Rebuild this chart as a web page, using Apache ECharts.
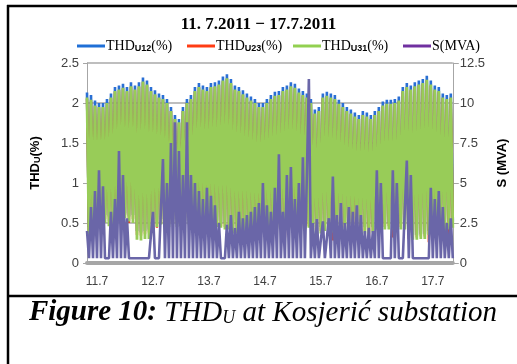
<!DOCTYPE html>
<html>
<head>
<meta charset="utf-8">
<script src="https://cdn.jsdelivr.net/npm/echarts@6/dist/echarts.min.js"></script>
<style>
  html, body { margin: 0; padding: 0; background: #fff; }
  #chart { width: 517px; height: 364px; }
</style>
</head>
<body>
<div id="chart"></div>
<script>
// x axis: sample index (about 52 min per sample), day labels placed at given indices
const dayLabels = ['11.7', '12.7', '13.7', '14.7', '15.7', '16.7', '17.7'];
const dayLabelIndex = [5, 33, 61, 89, 117, 145, 173];

// THD_U12 (%)
const thd12 = [
  2.13,0.45,2.10,0.55,2.03,0.60,2.00,0.62,
  2.00,0.60,2.05,0.58,2.12,0.55,2.20,0.60,
  2.22,0.70,2.24,0.62,2.20,0.58,2.26,0.60,
  2.22,0.40,2.26,0.38,2.32,0.40,2.28,0.42,
  2.20,0.50,2.16,0.50,2.12,0.55,2.10,0.52,
  2.05,0.55,1.95,0.60,1.85,0.55,1.80,0.60,
  1.95,0.62,2.05,0.58,2.10,0.55,2.20,0.60,
  2.25,0.60,2.22,0.60,2.20,0.58,2.25,0.56,
  2.26,0.52,2.28,0.50,2.33,0.50,2.36,0.50,
  2.30,0.45,2.22,0.45,2.20,0.48,2.16,0.50,
  2.12,0.50,2.08,0.48,2.05,0.50,2.00,0.55,
  2.00,0.55,2.05,0.50,2.10,0.52,2.14,0.50,
  2.15,0.48,2.20,0.46,2.22,0.50,2.26,0.48,
  2.24,0.48,2.18,0.50,2.15,0.50,2.12,0.52,
  2.05,0.45,1.92,0.42,1.95,0.45,2.12,0.48,
  2.14,0.45,2.12,0.46,2.10,0.48,2.04,0.50,
  2.00,0.48,1.95,0.45,1.92,0.48,1.88,0.50,
  1.85,0.45,1.90,0.45,1.88,0.44,1.85,0.45,
  1.90,0.50,1.95,0.48,2.02,0.50,2.04,0.50,
  2.04,0.50,2.05,0.48,2.08,0.50,2.20,0.50,
  2.25,0.45,2.22,0.35,2.26,0.35,2.28,0.36,
  2.30,0.36,2.34,0.40,2.28,0.45,2.22,0.48,
  2.20,0.48,2.12,0.50,2.10,0.52,2.12,0.52
];

// THD_U23 (%)
const thd23 = [
  2.05,0.38,2.02,0.50,1.96,0.55,1.94,0.58,
  1.94,0.55,1.99,0.52,2.06,0.50,2.14,0.55,
  2.16,0.54,2.18,0.60,2.14,0.50,2.20,0.55,
  2.16,0.35,2.20,0.34,2.26,0.36,2.22,0.38,
  2.14,0.45,2.10,0.44,2.06,0.50,2.04,0.47,
  1.99,0.48,1.90,0.55,1.80,0.50,1.75,0.52,
  1.90,0.56,2.00,0.52,2.04,0.50,2.14,0.55,
  2.19,0.50,2.16,0.55,2.14,0.52,2.19,0.50,
  2.20,0.50,2.22,0.46,2.27,0.45,2.30,0.45,
  2.24,0.40,2.16,0.42,2.14,0.30,2.10,0.45,
  2.06,0.45,2.02,0.44,1.99,0.32,1.94,0.50,
  1.94,0.50,1.99,0.45,2.04,0.46,2.08,0.45,
  2.09,0.44,2.14,0.32,2.16,0.45,2.20,0.44,
  2.18,0.44,2.12,0.45,2.09,0.44,2.06,0.46,
  1.99,0.42,1.86,0.38,1.90,0.40,2.06,0.44,
  2.08,0.40,2.06,0.28,2.04,0.42,1.98,0.45,
  1.94,0.44,1.90,0.42,1.86,0.32,1.82,0.46,
  1.80,0.40,1.85,0.40,1.82,0.28,1.80,0.40,
  1.85,0.45,1.90,0.44,1.96,0.45,1.98,0.46,
  1.98,0.32,1.99,0.44,2.02,0.45,2.14,0.45,
  2.19,0.30,2.16,0.32,2.20,0.32,2.22,0.33,
  2.24,0.33,2.28,0.26,2.22,0.42,2.16,0.44,
  2.14,0.44,2.06,0.45,2.04,0.32,2.06,0.48
];

// THD_U31 (%)
const thd31 = [
  2.07,0.30,2.04,0.42,1.97,0.50,1.95,0.52,
  1.95,0.50,2.00,0.46,2.07,0.44,2.15,0.50,
  2.17,0.64,2.19,0.56,2.15,0.52,2.21,0.50,
  2.17,0.29,2.21,0.28,2.27,0.30,2.23,0.30,
  2.15,0.44,2.11,0.45,2.07,0.48,2.05,0.45,
  2.00,0.45,1.90,0.50,1.80,0.45,1.76,0.50,
  1.90,0.52,2.00,0.48,2.05,0.42,2.15,0.50,
  2.20,0.52,2.17,0.50,2.15,0.48,2.20,0.50,
  2.21,0.45,2.23,0.44,2.28,0.42,2.31,0.42,
  2.25,0.37,2.17,0.37,2.15,0.40,2.11,0.40,
  2.07,0.42,2.03,0.40,2.00,0.42,1.95,0.45,
  1.95,0.48,2.00,0.44,2.05,0.44,2.09,0.43,
  2.10,0.42,2.15,0.42,2.17,0.44,2.21,0.43,
  2.19,0.42,2.13,0.42,2.10,0.42,2.07,0.44,
  2.00,0.37,1.87,0.36,1.90,0.37,2.07,0.40,
  2.09,0.37,2.07,0.38,2.05,0.40,1.99,0.42,
  1.95,0.40,1.90,0.40,1.87,0.42,1.83,0.42,
  1.80,0.38,1.85,0.37,1.83,0.37,1.80,0.38,
  1.85,0.42,1.90,0.40,1.97,0.42,1.99,0.42,
  1.99,0.42,2.00,0.40,2.03,0.42,2.15,0.42,
  2.20,0.38,2.17,0.29,2.21,0.29,2.23,0.30,
  2.25,0.30,2.29,0.35,2.23,0.40,2.17,0.40,
  2.15,0.40,2.07,0.40,2.05,0.42,2.07,0.44
];

// S (MVA)
const sMva = [
  2.0,0.3,3.5,0.3,4.5,0.3,5.8,0.3,4.8,
  0.3,0.3,0.3,
  3.2,0.3,4.0,0.3,7.0,0.3,5.5,0.3,2.8,
  0.3,0.3,0.3,0.3,0.3,0.3,0.3,0.3,0.3,0.3,0.3,0.3,
  3.2,0.3,
  0.3,0.3,0.3,
  6.5,0.3,5.0,0.3,7.5,0.3,8.8,0.3,7.0,
  0.3,5.5,0.3,8.8,0.3,5.5,0.3,5.0,0.3,
  4.5,0.3,4.0,0.3,4.7,0.3,4.2,0.3,
  3.6,0.3,2.5,0.3,0.3,0.3,2.4,0.3,
  3.0,0.3,2.2,0.3,3.2,0.3,2.8,0.3,3.0,0.3,3.2,0.3,
  3.5,0.3,3.75,0.3,5.0,0.3,3.6,0.3,3.2,
  0.3,4.7,0.3,6.8,0.3,3.2,0.3,5.5,0.3,6.0,0.3,4.0,0.3,5.0,
  0.3,6.6,0.3,5.5,11.5,0.3,
  2.5,0.3,2.75,0.3,0.3,2.6,0.3,0.3,2.8,0.3,5.4,0.3,
  3.0,0.3,3.75,0.3,2.5,0.3,3.5,0.3,3.2,0.3,3.6,0.3,3.0,0.3,
  2.0,0.3,2.2,0.3,2.0,
  0.3,5.8,0.3,
  5.0,0.3,0.3,0.3,0.3,0.3,
  5.8,0.3,5.0,0.3,
  0.3,0.3,0.3,
  6.4,0.3,5.5,
  0.3,0.3,0.3,0.3,0.3,0.3,0.3,0.3,0.3,
  4.7,0.3,4.0,0.3,4.5,0.3,3.5,
  0.3,2.5,0.3,2.8,0.3
];

const legendText = {
  'THDU12(%)': 'THD{s|U12}(%)',
  'THDU23(%)': 'THD{s|U23}(%)',
  'THDU31(%)': 'THD{s|U31}(%)',
  'S(MVA)': 'S(MVA)'
};

const chart = echarts.init(document.getElementById('chart'));

const legendBase = {
  top: 39,
  padding: 0,
  icon: 'rect',
  itemWidth: 28,
  itemHeight: 3,
  selectedMode: false,
  formatter: (name) => legendText[name],
  textStyle: {
    fontFamily: 'Liberation Serif',
    fontSize: 14,
    color: '#000',
    padding: [0, 0, 0, -4],
    rich: {
      s: { fontFamily: 'Liberation Sans', fontSize: 9, fontWeight: 'bold', color: '#000', verticalAlign: 'bottom', padding: [6, 0, 0, 0] }
    }
  }
};

const toPoints = (arr) => arr.map((v, i) => [i, v]);

chart.setOption({
  animation: false,
  title: {
    text: '11. 7.2011 − 17.7.2011',
    left: 'center',
    top: 11,
    textStyle: { fontFamily: 'Liberation Serif', fontWeight: 'bold', fontSize: 17, color: '#000' }
  },
  legend: [
    Object.assign({}, legendBase, { left: 77, data: ['THDU12(%)'] }),
    Object.assign({}, legendBase, { left: 187, data: ['THDU23(%)'] }),
    Object.assign({}, legendBase, { left: 293, data: ['THDU31(%)'] }),
    Object.assign({}, legendBase, { left: 403, data: ['S(MVA)'] })
  ],
  grid: { left: 87, right: 62, top: 63, bottom: 101 },
  xAxis: {
    type: 'value',
    min: 0,
    max: 183,
    axisLine: { show: true, onZero: false, lineStyle: { color: '#a6a6a6', width: 4 } },
    axisTick: { show: false },
    splitLine: { show: false },
    axisLabel: {
      customValues: dayLabelIndex,
      formatter: (v) => dayLabels[dayLabelIndex.indexOf(v)],
      margin: 13,
      fontFamily: 'Liberation Sans',
      fontSize: 12,
      color: '#404040'
    }
  },
  yAxis: [
    {
      type: 'value',
      min: 0,
      max: 2.5,
      interval: 0.5,
      name: 'THD{s|U}(%)',
      nameLocation: 'middle',
      nameGap: 45,
      nameRotate: 90,
      nameTextStyle: {
        fontFamily: 'Liberation Sans',
        fontWeight: 'bold',
        fontSize: 13,
        color: '#000',
        rich: { s: { fontFamily: 'Liberation Sans', fontWeight: 'bold', fontSize: 9, verticalAlign: 'bottom', padding: [5, 0, 0, 0] } }
      },
      axisLine: { show: true, lineStyle: { color: '#a6a6a6', width: 1 } },
      axisTick: { show: true, length: 4, lineStyle: { color: '#a6a6a6' } },
      axisLabel: { margin: 8, fontFamily: 'Liberation Sans', fontSize: 13, color: '#404040' },
      splitLine: { show: true, lineStyle: { color: '#a9a9a9', width: 1.5 } }
    },
    {
      type: 'value',
      min: 0,
      max: 12.5,
      interval: 2.5,
      position: 'right',
      name: 'S (MVA)',
      nameLocation: 'middle',
      nameGap: 42,
      nameRotate: 90,
      nameTextStyle: { fontFamily: 'Liberation Sans', fontWeight: 'bold', fontSize: 13, color: '#000' },
      axisLine: { show: true, lineStyle: { color: '#a6a6a6', width: 1 } },
      axisTick: { show: true, length: 6, lineStyle: { color: '#a6a6a6' } },
      axisLabel: { margin: 7, fontFamily: 'Liberation Sans', fontSize: 13, color: '#404040' },
      splitLine: { show: false }
    }
  ],
  series: [
    {
      name: 'THDU12(%)', type: 'line', yAxisIndex: 0, symbol: 'none',
      data: toPoints(thd12),
      itemStyle: { color: '#1f6fd6' },
      lineStyle: { color: '#2a6fd4', width: 2.6 }
    },
    {
      name: 'THDU23(%)', type: 'line', yAxisIndex: 0, symbol: 'none',
      data: toPoints(thd23),
      itemStyle: { color: '#ff3c14' },
      lineStyle: { color: '#e8401e', width: 2.4 }
    },
    {
      name: 'THDU31(%)', type: 'line', yAxisIndex: 0, symbol: 'none',
      data: toPoints(thd31),
      itemStyle: { color: '#92d050' },
      lineStyle: { color: '#98cc58', width: 2.8 }
    },
    {
      name: 'S(MVA)', type: 'line', yAxisIndex: 1, symbol: 'none',
      data: toPoints(sMva),
      itemStyle: { color: '#7030a0' },
      lineStyle: { color: '#6a66a8', width: 2.6 }
    }
  ],
  graphic: [
    { type: 'line', shape: { x1: 8, y1: 5, x2: 8, y2: 364 }, style: { stroke: '#000', lineWidth: 2.5 } },
    { type: 'line', shape: { x1: 7, y1: 6, x2: 517, y2: 6 }, style: { stroke: '#000', lineWidth: 2.5 } },
    { type: 'line', shape: { x1: 7, y1: 296, x2: 517, y2: 296 }, style: { stroke: '#000', lineWidth: 2.5 } },
    {
      type: 'text',
      style: {
        x: 263,
        y: 313,
        align: 'center',
        verticalAlign: 'middle',
        text: '{b|Figure 10:}{i| THD}{u|U}{i| at Kosjerić substation}',
        rich: {
          b: { fontFamily: 'Liberation Serif', fontSize: 29, fontWeight: 'bold', fontStyle: 'italic', fill: '#000' },
          i: { fontFamily: 'Liberation Serif', fontSize: 29, fontStyle: 'italic', fill: '#000' },
          u: { fontFamily: 'Liberation Serif', fontSize: 18, fontStyle: 'italic', fill: '#000', verticalAlign: 'bottom', padding: [11, 0, 0, 0] }
        }
      }
    }
  ]
});
</script>
</body>
</html>
